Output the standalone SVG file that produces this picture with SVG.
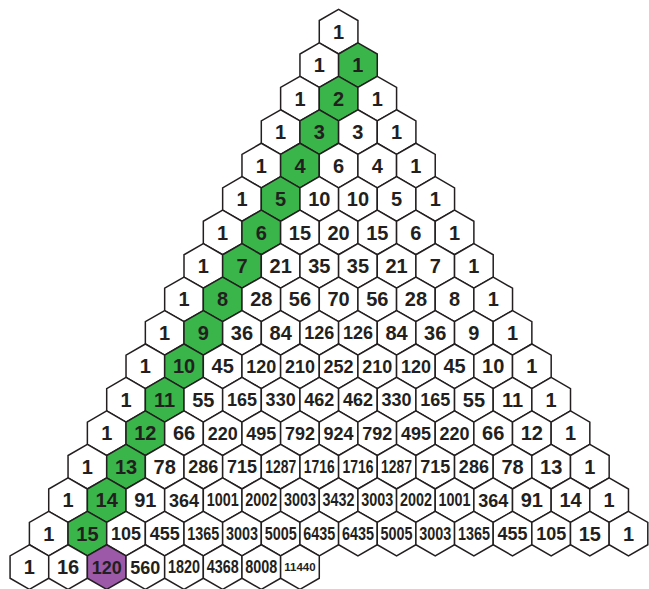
<svg xmlns="http://www.w3.org/2000/svg" xmlns:xlink="http://www.w3.org/1999/xlink" width="649" height="589" viewBox="0 0 649 589">
<style>
.h{fill:#ffffff;stroke:#231f20;stroke-width:1.5;stroke-linejoin:miter}
.g .h{fill:#39b54a}
.p .h{fill:#9b59a8}
text{font-family:"Liberation Sans",Arial,sans-serif;font-weight:700;fill:#231f20;text-anchor:middle}
.a{font-size:20px}
.b{font-size:18px}
.c{font-size:17.5px}
.e{font-size:11.5px}
</style>
<defs>
<polygon id="hex" points="0,-22.31 19.33,-11.16 19.33,11.16 0,22.31 -19.33,11.16 -19.33,-11.16"/>
</defs>
<g id="row0" transform="translate(338.6,31.7)">
<g id="n0-0"><use href="#hex" class="h"/><text class="a" y="7.1">1</text></g>
</g>
<g id="row1" transform="translate(319.28,65.16)">
<g id="n1-0"><use href="#hex" class="h"/><text class="a" y="7.1">1</text></g>
<g id="n1-1" class="g" transform="translate(38.65,0)"><use href="#hex" class="h"/><text class="a" y="7.1">1</text></g>
</g>
<g id="row2" transform="translate(299.95,98.62)">
<g id="n2-0"><use href="#hex" class="h"/><text class="a" y="7.1">1</text></g>
<g id="n2-1" class="g" transform="translate(38.65,0)"><use href="#hex" class="h"/><text class="a" y="7.1">2</text></g>
<g id="n2-2" transform="translate(77.3,0)"><use href="#hex" class="h"/><text class="a" y="7.1">1</text></g>
</g>
<g id="row3" transform="translate(280.63,132.08)">
<g id="n3-0"><use href="#hex" class="h"/><text class="a" y="7.1">1</text></g>
<g id="n3-1" class="g" transform="translate(38.65,0)"><use href="#hex" class="h"/><text class="a" y="7.1">3</text></g>
<g id="n3-2" transform="translate(77.3,0)"><use href="#hex" class="h"/><text class="a" y="7.1">3</text></g>
<g id="n3-3" transform="translate(115.95,0)"><use href="#hex" class="h"/><text class="a" y="7.1">1</text></g>
</g>
<g id="row4" transform="translate(261.3,165.54)">
<g id="n4-0"><use href="#hex" class="h"/><text class="a" y="7.1">1</text></g>
<g id="n4-1" class="g" transform="translate(38.65,0)"><use href="#hex" class="h"/><text class="a" y="7.1">4</text></g>
<g id="n4-2" transform="translate(77.3,0)"><use href="#hex" class="h"/><text class="a" y="7.1">6</text></g>
<g id="n4-3" transform="translate(115.95,0)"><use href="#hex" class="h"/><text class="a" y="7.1">4</text></g>
<g id="n4-4" transform="translate(154.6,0)"><use href="#hex" class="h"/><text class="a" y="7.1">1</text></g>
</g>
<g id="row5" transform="translate(241.98,199)">
<g id="n5-0"><use href="#hex" class="h"/><text class="a" y="7.1">1</text></g>
<g id="n5-1" class="g" transform="translate(38.65,0)"><use href="#hex" class="h"/><text class="a" y="7.1">5</text></g>
<g id="n5-2" transform="translate(77.3,0)"><use href="#hex" class="h"/><text class="a" y="7.1">10</text></g>
<g id="n5-3" transform="translate(115.95,0)"><use href="#hex" class="h"/><text class="a" y="7.1">10</text></g>
<g id="n5-4" transform="translate(154.6,0)"><use href="#hex" class="h"/><text class="a" y="7.1">5</text></g>
<g id="n5-5" transform="translate(193.25,0)"><use href="#hex" class="h"/><text class="a" y="7.1">1</text></g>
</g>
<g id="row6" transform="translate(222.65,232.46)">
<g id="n6-0"><use href="#hex" class="h"/><text class="a" y="7.1">1</text></g>
<g id="n6-1" class="g" transform="translate(38.65,0)"><use href="#hex" class="h"/><text class="a" y="7.1">6</text></g>
<g id="n6-2" transform="translate(77.3,0)"><use href="#hex" class="h"/><text class="a" y="7.1">15</text></g>
<g id="n6-3" transform="translate(115.95,0)"><use href="#hex" class="h"/><text class="a" y="7.1">20</text></g>
<g id="n6-4" transform="translate(154.6,0)"><use href="#hex" class="h"/><text class="a" y="7.1">15</text></g>
<g id="n6-5" transform="translate(193.25,0)"><use href="#hex" class="h"/><text class="a" y="7.1">6</text></g>
<g id="n6-6" transform="translate(231.9,0)"><use href="#hex" class="h"/><text class="a" y="7.1">1</text></g>
</g>
<g id="row7" transform="translate(203.33,265.92)">
<g id="n7-0"><use href="#hex" class="h"/><text class="a" y="7.1">1</text></g>
<g id="n7-1" class="g" transform="translate(38.65,0)"><use href="#hex" class="h"/><text class="a" y="7.1">7</text></g>
<g id="n7-2" transform="translate(77.3,0)"><use href="#hex" class="h"/><text class="a" y="7.1">21</text></g>
<g id="n7-3" transform="translate(115.95,0)"><use href="#hex" class="h"/><text class="a" y="7.1">35</text></g>
<g id="n7-4" transform="translate(154.6,0)"><use href="#hex" class="h"/><text class="a" y="7.1">35</text></g>
<g id="n7-5" transform="translate(193.25,0)"><use href="#hex" class="h"/><text class="a" y="7.1">21</text></g>
<g id="n7-6" transform="translate(231.9,0)"><use href="#hex" class="h"/><text class="a" y="7.1">7</text></g>
<g id="n7-7" transform="translate(270.55,0)"><use href="#hex" class="h"/><text class="a" y="7.1">1</text></g>
</g>
<g id="row8" transform="translate(184,299.38)">
<g id="n8-0"><use href="#hex" class="h"/><text class="a" y="7.1">1</text></g>
<g id="n8-1" class="g" transform="translate(38.65,0)"><use href="#hex" class="h"/><text class="a" y="7.1">8</text></g>
<g id="n8-2" transform="translate(77.3,0)"><use href="#hex" class="h"/><text class="a" y="7.1">28</text></g>
<g id="n8-3" transform="translate(115.95,0)"><use href="#hex" class="h"/><text class="a" y="7.1">56</text></g>
<g id="n8-4" transform="translate(154.6,0)"><use href="#hex" class="h"/><text class="a" y="7.1">70</text></g>
<g id="n8-5" transform="translate(193.25,0)"><use href="#hex" class="h"/><text class="a" y="7.1">56</text></g>
<g id="n8-6" transform="translate(231.9,0)"><use href="#hex" class="h"/><text class="a" y="7.1">28</text></g>
<g id="n8-7" transform="translate(270.55,0)"><use href="#hex" class="h"/><text class="a" y="7.1">8</text></g>
<g id="n8-8" transform="translate(309.2,0)"><use href="#hex" class="h"/><text class="a" y="7.1">1</text></g>
</g>
<g id="row9" transform="translate(164.68,332.84)">
<g id="n9-0"><use href="#hex" class="h"/><text class="a" y="7.1">1</text></g>
<g id="n9-1" class="g" transform="translate(38.65,0)"><use href="#hex" class="h"/><text class="a" y="7.1">9</text></g>
<g id="n9-2" transform="translate(77.3,0)"><use href="#hex" class="h"/><text class="a" y="7.1">36</text></g>
<g id="n9-3" transform="translate(115.95,0)"><use href="#hex" class="h"/><text class="a" y="7.1">84</text></g>
<g id="n9-4" transform="translate(154.6,0)"><use href="#hex" class="h"/><text class="b" y="6.5">126</text></g>
<g id="n9-5" transform="translate(193.25,0)"><use href="#hex" class="h"/><text class="b" y="6.5">126</text></g>
<g id="n9-6" transform="translate(231.9,0)"><use href="#hex" class="h"/><text class="a" y="7.1">84</text></g>
<g id="n9-7" transform="translate(270.55,0)"><use href="#hex" class="h"/><text class="a" y="7.1">36</text></g>
<g id="n9-8" transform="translate(309.2,0)"><use href="#hex" class="h"/><text class="a" y="7.1">9</text></g>
<g id="n9-9" transform="translate(347.85,0)"><use href="#hex" class="h"/><text class="a" y="7.1">1</text></g>
</g>
<g id="row10" transform="translate(145.35,366.3)">
<g id="n10-0"><use href="#hex" class="h"/><text class="a" y="7.1">1</text></g>
<g id="n10-1" class="g" transform="translate(38.65,0)"><use href="#hex" class="h"/><text class="a" y="7.1">10</text></g>
<g id="n10-2" transform="translate(77.3,0)"><use href="#hex" class="h"/><text class="a" y="7.1">45</text></g>
<g id="n10-3" transform="translate(115.95,0)"><use href="#hex" class="h"/><text class="b" y="6.5">120</text></g>
<g id="n10-4" transform="translate(154.6,0)"><use href="#hex" class="h"/><text class="b" y="6.5">210</text></g>
<g id="n10-5" transform="translate(193.25,0)"><use href="#hex" class="h"/><text class="b" y="6.5">252</text></g>
<g id="n10-6" transform="translate(231.9,0)"><use href="#hex" class="h"/><text class="b" y="6.5">210</text></g>
<g id="n10-7" transform="translate(270.55,0)"><use href="#hex" class="h"/><text class="b" y="6.5">120</text></g>
<g id="n10-8" transform="translate(309.2,0)"><use href="#hex" class="h"/><text class="a" y="7.1">45</text></g>
<g id="n10-9" transform="translate(347.85,0)"><use href="#hex" class="h"/><text class="a" y="7.1">10</text></g>
<g id="n10-10" transform="translate(386.5,0)"><use href="#hex" class="h"/><text class="a" y="7.1">1</text></g>
</g>
<g id="row11" transform="translate(126.03,399.76)">
<g id="n11-0"><use href="#hex" class="h"/><text class="a" y="7.1">1</text></g>
<g id="n11-1" class="g" transform="translate(38.65,0)"><use href="#hex" class="h"/><text class="a" y="7.1">11</text></g>
<g id="n11-2" transform="translate(77.3,0)"><use href="#hex" class="h"/><text class="a" y="7.1">55</text></g>
<g id="n11-3" transform="translate(115.95,0)"><use href="#hex" class="h"/><text class="b" y="6.5">165</text></g>
<g id="n11-4" transform="translate(154.6,0)"><use href="#hex" class="h"/><text class="b" y="6.5">330</text></g>
<g id="n11-5" transform="translate(193.25,0)"><use href="#hex" class="h"/><text class="b" y="6.5">462</text></g>
<g id="n11-6" transform="translate(231.9,0)"><use href="#hex" class="h"/><text class="b" y="6.5">462</text></g>
<g id="n11-7" transform="translate(270.55,0)"><use href="#hex" class="h"/><text class="b" y="6.5">330</text></g>
<g id="n11-8" transform="translate(309.2,0)"><use href="#hex" class="h"/><text class="b" y="6.5">165</text></g>
<g id="n11-9" transform="translate(347.85,0)"><use href="#hex" class="h"/><text class="a" y="7.1">55</text></g>
<g id="n11-10" transform="translate(386.5,0)"><use href="#hex" class="h"/><text class="a" y="7.1">11</text></g>
<g id="n11-11" transform="translate(425.15,0)"><use href="#hex" class="h"/><text class="a" y="7.1">1</text></g>
</g>
<g id="row12" transform="translate(106.7,433.22)">
<g id="n12-0"><use href="#hex" class="h"/><text class="a" y="7.1">1</text></g>
<g id="n12-1" class="g" transform="translate(38.65,0)"><use href="#hex" class="h"/><text class="a" y="7.1">12</text></g>
<g id="n12-2" transform="translate(77.3,0)"><use href="#hex" class="h"/><text class="a" y="7.1">66</text></g>
<g id="n12-3" transform="translate(115.95,0)"><use href="#hex" class="h"/><text class="b" y="6.5">220</text></g>
<g id="n12-4" transform="translate(154.6,0)"><use href="#hex" class="h"/><text class="b" y="6.5">495</text></g>
<g id="n12-5" transform="translate(193.25,0)"><use href="#hex" class="h"/><text class="b" y="6.5">792</text></g>
<g id="n12-6" transform="translate(231.9,0)"><use href="#hex" class="h"/><text class="b" y="6.5">924</text></g>
<g id="n12-7" transform="translate(270.55,0)"><use href="#hex" class="h"/><text class="b" y="6.5">792</text></g>
<g id="n12-8" transform="translate(309.2,0)"><use href="#hex" class="h"/><text class="b" y="6.5">495</text></g>
<g id="n12-9" transform="translate(347.85,0)"><use href="#hex" class="h"/><text class="b" y="6.5">220</text></g>
<g id="n12-10" transform="translate(386.5,0)"><use href="#hex" class="h"/><text class="a" y="7.1">66</text></g>
<g id="n12-11" transform="translate(425.15,0)"><use href="#hex" class="h"/><text class="a" y="7.1">12</text></g>
<g id="n12-12" transform="translate(463.8,0)"><use href="#hex" class="h"/><text class="a" y="7.1">1</text></g>
</g>
<g id="row13" transform="translate(87.38,466.68)">
<g id="n13-0"><use href="#hex" class="h"/><text class="a" y="7.1">1</text></g>
<g id="n13-1" class="g" transform="translate(38.65,0)"><use href="#hex" class="h"/><text class="a" y="7.1">13</text></g>
<g id="n13-2" transform="translate(77.3,0)"><use href="#hex" class="h"/><text class="a" y="7.1">78</text></g>
<g id="n13-3" transform="translate(115.95,0)"><use href="#hex" class="h"/><text class="b" y="6.5">286</text></g>
<g id="n13-4" transform="translate(154.6,0)"><use href="#hex" class="h"/><text class="b" y="6.5">715</text></g>
<g id="n13-5" transform="translate(193.25,0)"><use href="#hex" class="h"/><text class="c" y="6.3" textLength="31" lengthAdjust="spacingAndGlyphs">1287</text></g>
<g id="n13-6" transform="translate(231.9,0)"><use href="#hex" class="h"/><text class="c" y="6.3" textLength="31" lengthAdjust="spacingAndGlyphs">1716</text></g>
<g id="n13-7" transform="translate(270.55,0)"><use href="#hex" class="h"/><text class="c" y="6.3" textLength="31" lengthAdjust="spacingAndGlyphs">1716</text></g>
<g id="n13-8" transform="translate(309.2,0)"><use href="#hex" class="h"/><text class="c" y="6.3" textLength="31" lengthAdjust="spacingAndGlyphs">1287</text></g>
<g id="n13-9" transform="translate(347.85,0)"><use href="#hex" class="h"/><text class="b" y="6.5">715</text></g>
<g id="n13-10" transform="translate(386.5,0)"><use href="#hex" class="h"/><text class="b" y="6.5">286</text></g>
<g id="n13-11" transform="translate(425.15,0)"><use href="#hex" class="h"/><text class="a" y="7.1">78</text></g>
<g id="n13-12" transform="translate(463.8,0)"><use href="#hex" class="h"/><text class="a" y="7.1">13</text></g>
<g id="n13-13" transform="translate(502.45,0)"><use href="#hex" class="h"/><text class="a" y="7.1">1</text></g>
</g>
<g id="row14" transform="translate(68.05,500.14)">
<g id="n14-0"><use href="#hex" class="h"/><text class="a" y="7.1">1</text></g>
<g id="n14-1" class="g" transform="translate(38.65,0)"><use href="#hex" class="h"/><text class="a" y="7.1">14</text></g>
<g id="n14-2" transform="translate(77.3,0)"><use href="#hex" class="h"/><text class="a" y="7.1">91</text></g>
<g id="n14-3" transform="translate(115.95,0)"><use href="#hex" class="h"/><text class="b" y="6.5">364</text></g>
<g id="n14-4" transform="translate(154.6,0)"><use href="#hex" class="h"/><text class="c" y="6.3" textLength="32" lengthAdjust="spacingAndGlyphs">1001</text></g>
<g id="n14-5" transform="translate(193.25,0)"><use href="#hex" class="h"/><text class="c" y="6.3" textLength="32" lengthAdjust="spacingAndGlyphs">2002</text></g>
<g id="n14-6" transform="translate(231.9,0)"><use href="#hex" class="h"/><text class="c" y="6.3" textLength="32" lengthAdjust="spacingAndGlyphs">3003</text></g>
<g id="n14-7" transform="translate(270.55,0)"><use href="#hex" class="h"/><text class="c" y="6.3" textLength="32" lengthAdjust="spacingAndGlyphs">3432</text></g>
<g id="n14-8" transform="translate(309.2,0)"><use href="#hex" class="h"/><text class="c" y="6.3" textLength="32" lengthAdjust="spacingAndGlyphs">3003</text></g>
<g id="n14-9" transform="translate(347.85,0)"><use href="#hex" class="h"/><text class="c" y="6.3" textLength="32" lengthAdjust="spacingAndGlyphs">2002</text></g>
<g id="n14-10" transform="translate(386.5,0)"><use href="#hex" class="h"/><text class="c" y="6.3" textLength="32" lengthAdjust="spacingAndGlyphs">1001</text></g>
<g id="n14-11" transform="translate(425.15,0)"><use href="#hex" class="h"/><text class="b" y="6.5">364</text></g>
<g id="n14-12" transform="translate(463.8,0)"><use href="#hex" class="h"/><text class="a" y="7.1">91</text></g>
<g id="n14-13" transform="translate(502.45,0)"><use href="#hex" class="h"/><text class="a" y="7.1">14</text></g>
<g id="n14-14" transform="translate(541.1,0)"><use href="#hex" class="h"/><text class="a" y="7.1">1</text></g>
</g>
<g id="row15" transform="translate(48.73,533.6)">
<g id="n15-0"><use href="#hex" class="h"/><text class="a" y="7.1">1</text></g>
<g id="n15-1" class="g" transform="translate(38.65,0)"><use href="#hex" class="h"/><text class="a" y="7.1">15</text></g>
<g id="n15-2" transform="translate(77.3,0)"><use href="#hex" class="h"/><text class="b" y="6.5">105</text></g>
<g id="n15-3" transform="translate(115.95,0)"><use href="#hex" class="h"/><text class="b" y="6.5">455</text></g>
<g id="n15-4" transform="translate(154.6,0)"><use href="#hex" class="h"/><text class="c" y="6.3" textLength="32" lengthAdjust="spacingAndGlyphs">1365</text></g>
<g id="n15-5" transform="translate(193.25,0)"><use href="#hex" class="h"/><text class="c" y="6.3" textLength="32" lengthAdjust="spacingAndGlyphs">3003</text></g>
<g id="n15-6" transform="translate(231.9,0)"><use href="#hex" class="h"/><text class="c" y="6.3" textLength="32" lengthAdjust="spacingAndGlyphs">5005</text></g>
<g id="n15-7" transform="translate(270.55,0)"><use href="#hex" class="h"/><text class="c" y="6.3" textLength="32" lengthAdjust="spacingAndGlyphs">6435</text></g>
<g id="n15-8" transform="translate(309.2,0)"><use href="#hex" class="h"/><text class="c" y="6.3" textLength="32" lengthAdjust="spacingAndGlyphs">6435</text></g>
<g id="n15-9" transform="translate(347.85,0)"><use href="#hex" class="h"/><text class="c" y="6.3" textLength="32" lengthAdjust="spacingAndGlyphs">5005</text></g>
<g id="n15-10" transform="translate(386.5,0)"><use href="#hex" class="h"/><text class="c" y="6.3" textLength="32" lengthAdjust="spacingAndGlyphs">3003</text></g>
<g id="n15-11" transform="translate(425.15,0)"><use href="#hex" class="h"/><text class="c" y="6.3" textLength="32" lengthAdjust="spacingAndGlyphs">1365</text></g>
<g id="n15-12" transform="translate(463.8,0)"><use href="#hex" class="h"/><text class="b" y="6.5">455</text></g>
<g id="n15-13" transform="translate(502.45,0)"><use href="#hex" class="h"/><text class="b" y="6.5">105</text></g>
<g id="n15-14" transform="translate(541.1,0)"><use href="#hex" class="h"/><text class="a" y="7.1">15</text></g>
<g id="n15-15" transform="translate(579.75,0)"><use href="#hex" class="h"/><text class="a" y="7.1">1</text></g>
</g>
<g id="row16" transform="translate(29.4,567.06)">
<g id="n16-0"><use href="#hex" class="h"/><text class="a" y="7.1">1</text></g>
<g id="n16-1" transform="translate(38.65,0)"><use href="#hex" class="h"/><text class="a" y="7.1">16</text></g>
<g id="n16-2" class="p" transform="translate(77.3,0)"><use href="#hex" class="h"/><text class="b" y="6.5">120</text></g>
<g id="n16-3" transform="translate(115.95,0)"><use href="#hex" class="h"/><text class="b" y="6.5">560</text></g>
<g id="n16-4" transform="translate(154.6,0)"><use href="#hex" class="h"/><text class="c" y="6.3" textLength="32" lengthAdjust="spacingAndGlyphs">1820</text></g>
<g id="n16-5" transform="translate(193.25,0)"><use href="#hex" class="h"/><text class="c" y="6.3" textLength="32" lengthAdjust="spacingAndGlyphs">4368</text></g>
<g id="n16-6" transform="translate(231.9,0)"><use href="#hex" class="h"/><text class="c" y="6.3" textLength="32" lengthAdjust="spacingAndGlyphs">8008</text></g>
<g id="n16-7" transform="translate(270.55,0)"><use href="#hex" class="h"/><text class="e" y="4.1">11440</text></g>
</g>
</svg>
